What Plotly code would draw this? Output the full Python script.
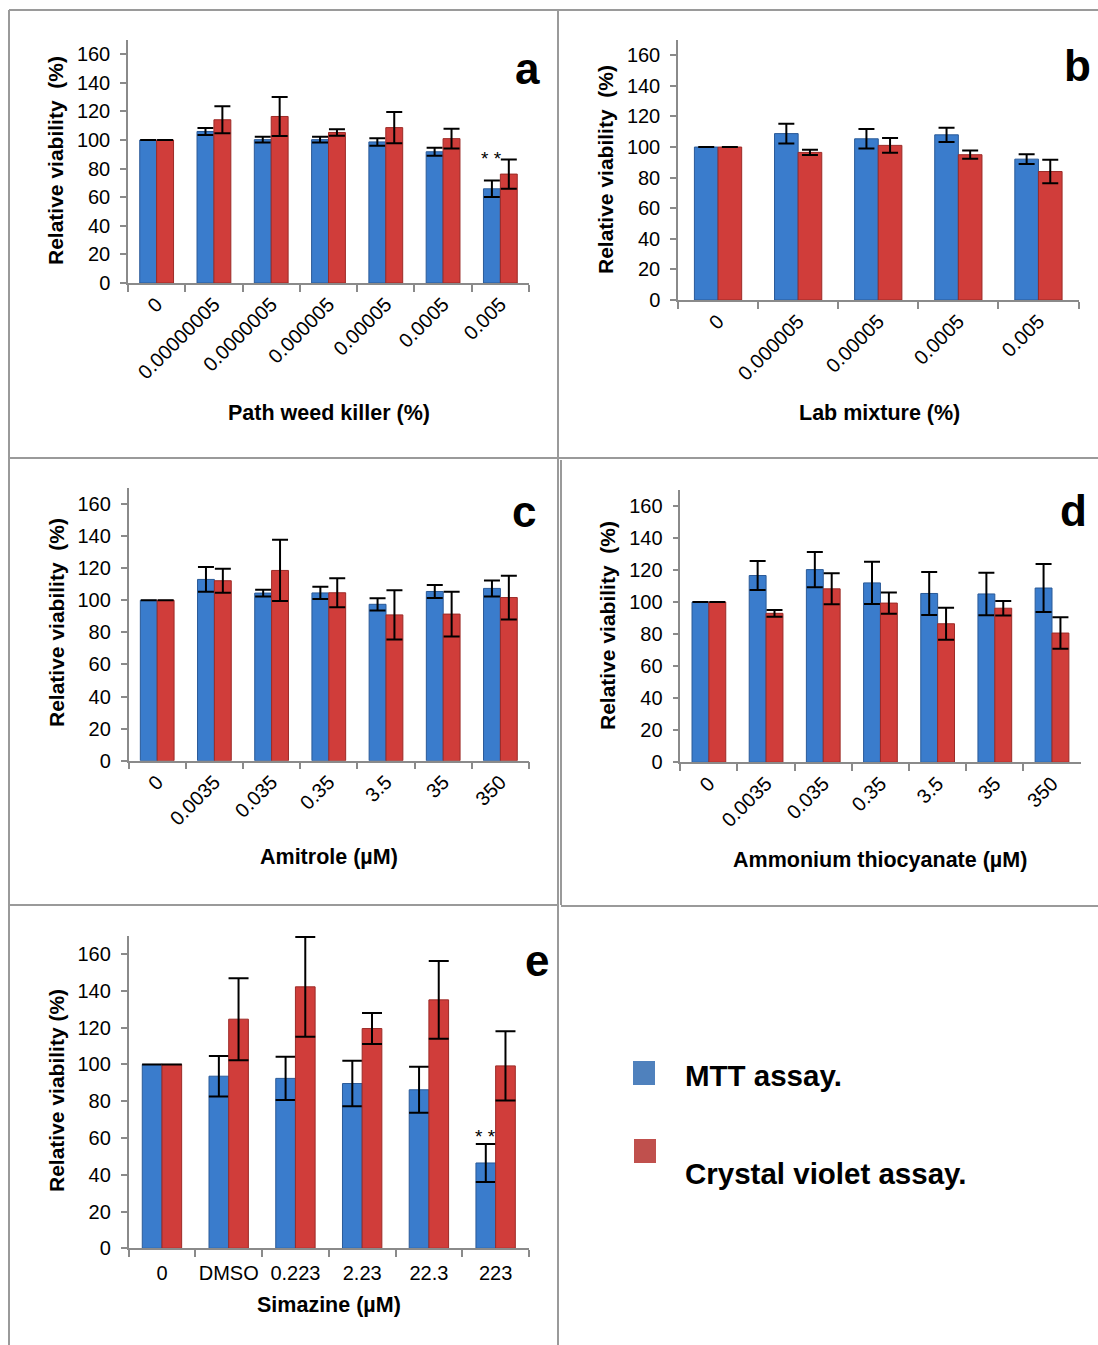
import plotly.graph_objects as go

W, H = 1098, 1345

# ---------------- data ----------------
a_cats = ["0", "0.00000005", "0.0000005", "0.000005", "0.00005", "0.0005", "0.005"]
a_mtt = [100, 106, 100.3, 100.3, 98.7, 91.8, 65.9]
a_mtt_err = [0, 2.5, 2, 2, 2.6, 2.8, 5.8]
a_cv = [100, 114.2, 116.5, 105.3, 108.7, 101, 76.2]
a_cv_err = [0, 9.5, 13.7, 2.3, 11, 6.9, 10.2]

b_cats = ["0", "0.000005", "0.00005", "0.0005", "0.005"]
b_mtt = [100, 108.8, 105.4, 108, 92.1]
b_mtt_err = [0, 6.5, 6.4, 4.7, 3.2]
b_cv = [100, 96.5, 101.1, 95, 84]
b_cv_err = [0, 1.7, 4.8, 2.7, 7.7]

c_cats = ["0", "0.0035", "0.035", "0.35", "3.5", "35", "350"]
c_mtt = [100, 113, 104.5, 104.6, 97.5, 105.5, 107.4]
c_mtt_err = [0, 7.7, 2.1, 3.8, 3.8, 4, 5]
c_cv = [100, 112.2, 118.6, 104.7, 90.9, 91.4, 101.7]
c_cv_err = [0, 7.5, 19.1, 9.1, 15.3, 14, 13.6]

d_cats = ["0", "0.0035", "0.035", "0.35", "3.5", "35", "350"]
d_mtt = [100, 116.6, 120.3, 112, 105.4, 105.1, 108.8]
d_mtt_err = [0, 9, 11, 13.2, 13.4, 13.3, 15]
d_cv = [100, 93, 108.3, 99.4, 86.5, 96.2, 80.7]
d_cv_err = [0, 2.1, 9.7, 6.6, 10, 4.5, 9.8]

e_cats = ["0", "DMSO", "0.223", "2.23", "22.3", "223"]
e_mtt = [100, 93.6, 92.4, 89.6, 86.2, 46.4]
e_mtt_err = [0, 11, 11.8, 12.4, 12.5, 10.3]
e_cv = [100, 124.6, 142.2, 119.5, 135.1, 99.2]
e_cv_err = [0, 22.3, 27.1, 8.4, 21.1, 18.8]

series_names = ["MTT assay.", "Crystal violet assay."]
panel_letters = ["a", "b", "c", "d", "e"]
x_titles = ["Path weed killer (%)", "Lab mixture (%)", "Amitrole (µM)",
            "Ammonium thiocyanate (µM)", "Simazine (µM)"]
y_title_ad = "Relative viability\u00a0\u00a0(%)"
y_title_e = "Relative viability (%)"
y_ticks = [0, 20, 40, 60, 80, 100, 120, 140, 160]

# ---------------- style ----------------
FONT = "Liberation Sans, Arial, Helvetica, sans-serif"
BLUE, BLUE_EDGE = "#3a7ccc", "#2a5a98"
RED, RED_EDGE = "#d03d3a", "#9c2b27"
LEG_BLUE, LEG_RED = "#4f81bd", "#c0504d"
AXIS_COL = "#8a8a8a"
BORDER_COL = "#9a9a9a"

def fx(px):
    return px / W

def fy(py):
    return 1 - py / H

# panel geometry (pixels): x0, x1, ytop, ybottom
geo = [
    (128, 529, 40, 283),
    (678, 1078.5, 40, 300),
    (128.6, 529, 488, 760.7),
    (680.3, 1080.6, 490, 762.3),
    (128.6, 529, 935.7, 1248.3),
]

panels = [
    (a_cats, a_mtt, a_mtt_err, a_cv, a_cv_err),
    (b_cats, b_mtt, b_mtt_err, b_cv, b_cv_err),
    (c_cats, c_mtt, c_mtt_err, c_cv, c_cv_err),
    (d_cats, d_mtt, d_mtt_err, d_cv, d_cv_err),
    (e_cats, e_mtt, e_mtt_err, e_cv, e_cv_err),
]

fig = go.Figure()
layout = dict(
    width=W, height=H,
    margin=dict(l=0, r=0, t=0, b=0, pad=0, autoexpand=False),
    paper_bgcolor="white", plot_bgcolor="white",
    barmode="group", bargap=0.41, bargroupgap=0,
    showlegend=False,
    font=dict(family=FONT, color="black", size=20),
)

for i, (cats, mtt, mtt_err, cv, cv_err) in enumerate(panels):
    n = i + 1
    xa = "x" if n == 1 else f"x{n}"
    ya = "y" if n == 1 else f"y{n}"
    capw = 10 if n == 5 else 8
    fig.add_trace(go.Bar(
        x=cats, y=mtt, name=series_names[0], xaxis=xa, yaxis=ya,
        marker=dict(color=BLUE, line=dict(color=BLUE_EDGE, width=1)),
        error_y=dict(type="data", array=mtt_err, visible=True,
                     color="black", thickness=2, width=capw),
    ))
    fig.add_trace(go.Bar(
        x=cats, y=cv, name=series_names[1], xaxis=xa, yaxis=ya,
        marker=dict(color=RED, line=dict(color=RED_EDGE, width=1)),
        error_y=dict(type="data", array=cv_err, visible=True,
                     color="black", thickness=2, width=capw),
    ))
    x0, x1, yt, yb = geo[i]
    xkey = "xaxis" if n == 1 else f"xaxis{n}"
    ykey = "yaxis" if n == 1 else f"yaxis{n}"
    layout[xkey] = dict(
        domain=[fx(x0), fx(x1)], anchor=ya, type="category", automargin=False,
        showline=True, linecolor=AXIS_COL, linewidth=1.5,
        ticks="outside", tickson="boundaries", ticklen=7, tickcolor=AXIS_COL,
        tickwidth=1.5, tickangle=0 if n == 5 else -45,
        ticklabelstandoff=6 if n == 5 else 0,
        tickfont=dict(size=20, family=FONT, color="black"),
        showgrid=False, zeroline=False,
    )
    layout[ykey] = dict(
        domain=[fy(yb), fy(yt)], anchor=xa, range=[0, 170], automargin=False,
        tickvals=y_ticks, showline=True, linecolor=AXIS_COL, linewidth=1.5,
        ticks="outside", ticklen=6, tickcolor=AXIS_COL, tickwidth=1.5,
        tickfont=dict(size=20, family=FONT, color="black"),
        ticklabelstandoff=6,
        showgrid=False, zeroline=False,
    )

annotations = []
# panel letters
letter_pos = [(527, 68), (1077, 66), (524, 511), (1073, 510), (537, 960)]
for L, (px, py) in zip(panel_letters, letter_pos):
    annotations.append(dict(text=f"<b>{L}</b>", x=fx(px), y=fy(py), xref="paper", yref="paper",
                            xanchor="center", yanchor="middle", showarrow=False,
                            font=dict(size=44, family=FONT, color="black")))
# x titles
xt_pos = [(329, 413), (879, 413), (329, 857), (880, 860), (329, 1305)]
for t, (px, py) in zip(x_titles, xt_pos):
    annotations.append(dict(text=f"<b>{t}</b>", x=fx(px), y=fy(py), xref="paper", yref="paper",
                            xanchor="center", yanchor="middle", showarrow=False,
                            font=dict(size=21.5, family=FONT, color="black")))
# y titles
yt_pos = [(56, 161), (606, 169), (56, 623), (607, 626), (56, 1091)]
for k, (px, py) in enumerate(yt_pos):
    t = y_title_e if k == 4 else y_title_ad
    annotations.append(dict(text=f"<b>{t}</b>", x=fx(px), y=fy(py), xref="paper", yref="paper",
                            xanchor="center", yanchor="middle", textangle=-90, showarrow=False,
                            font=dict(size=21, family=FONT, color="black")))
# significance marks (on MTT bars)
blue_off = -(1 - 0.41) / 4
annotations.append(dict(text="* *", x=len(a_cats) - 1 + blue_off, y=87, xref="x", yref="y",
                        xanchor="center", yanchor="middle", showarrow=False,
                        font=dict(size=19, family=FONT, color="black")))
annotations.append(dict(text="* *", x=len(e_cats) - 1 + blue_off, y=61, xref="x5", yref="y5",
                        xanchor="center", yanchor="middle", showarrow=False,
                        font=dict(size=19, family=FONT, color="black")))
# custom legend text
annotations.append(dict(text=f"<b>{series_names[0]}</b>", x=fx(683), y=fy(1075), xref="paper", yref="paper",
                        xanchor="left", yanchor="middle", showarrow=False,
                        font=dict(size=29.5, family=FONT, color="black")))
annotations.append(dict(text=f"<b>{series_names[1]}</b>", x=fx(683), y=fy(1173), xref="paper", yref="paper",
                        xanchor="left", yanchor="middle", showarrow=False,
                        font=dict(size=29.5, family=FONT, color="black")))

shapes = []
# legend swatches
shapes.append(dict(type="rect", xref="paper", yref="paper", x0=fx(633), x1=fx(655), y0=fy(1085), y1=fy(1061),
                   fillcolor=LEG_BLUE, line=dict(width=0)))
shapes.append(dict(type="rect", xref="paper", yref="paper", x0=fx(634), x1=fx(656), y0=fy(1163), y1=fy(1139),
                   fillcolor=LEG_RED, line=dict(width=0)))
# panel borders
def hline(xa, xb, y):
    return dict(type="line", xref="paper", yref="paper", x0=fx(xa), x1=fx(xb), y0=fy(y), y1=fy(y),
                line=dict(color=BORDER_COL, width=2))

def vline(x, ya, yb):
    return dict(type="line", xref="paper", yref="paper", x0=fx(x), x1=fx(x), y0=fy(ya), y1=fy(yb),
                line=dict(color=BORDER_COL, width=2))

shapes += [
    hline(9, 1098, 10),
    vline(9, 10, 1345),
    vline(558, 10, 905),
    hline(9, 1098, 458),
    vline(561, 460, 905),
    hline(9, 558, 905),
    hline(561, 1098, 906),
    vline(558, 905, 1345),
]

layout["annotations"] = annotations
layout["shapes"] = shapes
fig.update_layout(**layout)

post = (
    "var s=document.createElement('style');"
    "s.textContent='html,body{margin:0;padding:0;overflow:hidden;width:1098px;height:1345px;}"
    "body>div{font-size:0;line-height:0;height:1345px;overflow:hidden;}';"
    "document.head.appendChild(s);"
)
fig.write_html("out.html", config={"displayModeBar": False}, post_script=post)
